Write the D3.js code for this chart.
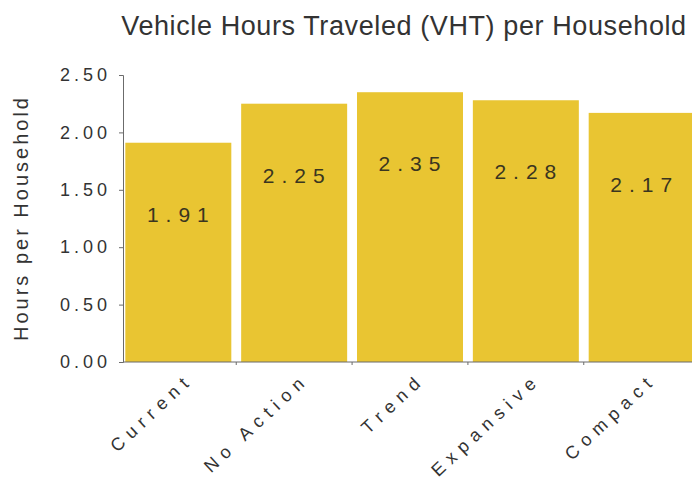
<!DOCTYPE html>
<html>
<head>
<meta charset="utf-8">
<script src="https://cdn.jsdelivr.net/npm/d3@7"></script>
<style>
  body { margin: 0; background: #fff; }
  svg { display: block; font-family: "Liberation Sans", Arial, sans-serif; }
</style>
</head>
<body>
<svg id="chart" width="692" height="483"></svg>
<script>
const scenarios = ["Current", "No Action", "Trend", "Expansive", "Compact"];
const vhtValues = [1.91, 2.25, 2.35, 2.28, 2.17];
const yTicks = [0, 0.5, 1.0, 1.5, 2.0, 2.5];

const svg = d3.select("#chart");
const barColor = "#e9c532";
const axisColor = "#6b6b6b";
const textColor = "#333";

const xScale = d3.scaleBand()
    .domain(scenarios)
    .range([123, 697])
    .paddingInner(0.085)
    .paddingOuter(0.02);

const yScale = d3.scaleLinear()
    .domain([0, 2.5])
    .range([362, 75]);

// bars
svg.selectAll(".bar")
    .data(scenarios)
    .enter()
    .append("rect")
    .attr("class", "bar")
    .attr("x", d => xScale(d))
    .attr("y", (d, i) => yScale(vhtValues[i]))
    .attr("width", xScale.bandwidth())
    .attr("height", (d, i) => yScale(0) - yScale(vhtValues[i]))
    .style("fill", barColor);

// value labels sit ~0.62 below the bar top
svg.selectAll(".val")
    .data(scenarios)
    .enter()
    .append("text")
    .attr("class", "val")
    .text((d, i) => vhtValues[i].toFixed(2))
    .attr("x", d => xScale(d) + xScale.bandwidth() / 2 + 3)
    .attr("y", (d, i) => yScale(vhtValues[i] - 0.62) + 8)
    .attr("text-anchor", "middle")
    .attr("font-size", 21)
    .attr("letter-spacing", 7)
    .style("fill", "#3a3520");

// y axis
const yAxis = d3.axisLeft(yScale)
    .tickValues(yTicks)
    .tickSize(4)
    .tickPadding(8)
    .tickFormat(d3.format(".2f"));
const yg = svg.append("g")
    .attr("transform", "translate(123,0)")
    .call(yAxis);
yg.select(".domain").attr("stroke", axisColor);
yg.selectAll(".tick line").attr("stroke", axisColor);
yg.selectAll(".tick text")
    .attr("font-size", 18)
    .attr("letter-spacing", 4)
    .attr("font-family", "Liberation Sans, Arial, sans-serif")
    .style("fill", textColor);

// x axis baseline with ticks between bars
svg.append("line")
    .attr("x1", 123).attr("x2", 692)
    .attr("y1", yScale(0)).attr("y2", yScale(0))
    .attr("stroke", axisColor);
svg.selectAll(".xtick")
    .data(scenarios.slice(1))
    .enter()
    .append("line")
    .attr("x1", d => xScale(d) - xScale.step() * xScale.paddingInner() / 2)
    .attr("x2", d => xScale(d) - xScale.step() * xScale.paddingInner() / 2)
    .attr("y1", yScale(0))
    .attr("y2", yScale(0) + 3)
    .attr("stroke", axisColor);

// rotated category labels
svg.selectAll(".xlab")
    .data(scenarios)
    .enter()
    .append("text")
    .attr("class", "xlab")
    .text(d => d)
    .attr("text-anchor", "end")
    .attr("font-size", 18)
    .attr("letter-spacing", 6.5)
    .attr("transform", d => `translate(${xScale(d) + xScale.bandwidth() / 2 + 16},${yScale(0) + 19}) rotate(-43)`)
    .style("fill", textColor);

// title
svg.append("text")
    .text("Vehicle Hours Traveled (VHT) per Household")
    .attr("x", 404)
    .attr("y", 35)
    .attr("text-anchor", "middle")
    .attr("font-size", 27)
    .attr("letter-spacing", 0.6)
    .style("fill", textColor);

// y axis title
svg.append("text")
    .text("Hours per Household")
    .attr("text-anchor", "middle")
    .attr("transform", "translate(28,218) rotate(-90)")
    .attr("font-size", 20)
    .attr("letter-spacing", 3)
    .style("fill", textColor);
</script>
</body>
</html>
